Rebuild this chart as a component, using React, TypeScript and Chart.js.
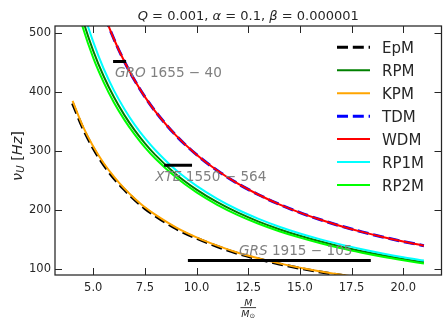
import React, { useEffect, useRef } from "react";
import { Chart, registerables } from "chart.js";

Chart.register(...registerables);

// ---------- data ----------
const massGrid = [4, 4.5, 5, 5.5, 6, 6.5, 7, 7.5, 8, 9, 10, 11, 12, 13, 14, 15, 16, 17, 18, 19, 20, 21];

const epmValues = [381, 339, 305, 277, 254, 235, 218, 203, 190.5, 169, 152.5, 138.6, 126.7, 117.3, 109, 101.7, 95.3, 89.7, 84.7, 80.2, 76.2, 72.6];
const rpmValues = [587.5, 522.2, 470, 427.3, 391.7, 361.5, 335.7, 313.3, 293.8, 261.1, 235, 213.6, 195.8, 180.8, 167.9, 156.7, 146.9, 138.2, 130.6, 123.7, 117.5, 111.9];
const kpmValues = [385, 342, 308, 280, 257, 237, 220, 205, 192.5, 171, 154, 140, 128, 118.5, 110, 102.7, 96.3, 90.6, 85.6, 81, 77, 73.3];
const tdmValues = [735, 653, 588, 534.5, 490, 452.3, 420, 392, 367.5, 326.7, 294, 267.3, 245, 226.2, 210, 196, 183.8, 173, 163.3, 154.7, 147, 140];
const wdmValues = [735, 653, 588, 534.5, 490, 452.3, 420, 392, 367.5, 326.7, 294, 267.3, 245, 226.2, 210, 196, 183.8, 173, 163.3, 154.7, 147, 140];
const rp1mValues = [607, 539, 485, 440, 403, 372, 345, 322, 302, 268, 241.2, 219.2, 200.8, 185.4, 172.1, 160.6, 150.6, 141.7, 133.9, 126.8, 120.4, 114.7];
const rp2mValues = [572, 509, 458, 417, 382.5, 353.5, 328.5, 306.5, 287.5, 255.7, 230.1, 209.2, 191.8, 177.1, 164.5, 153.6, 144, 135.4, 128, 121.2, 115.2, 109.7];

const seriesNames = ["EpM", "RPM", "KPM", "TDM", "WDM", "RP1M", "RP2M"];

const sourceNames = ["GRO", "XTE", "GRS"];
const sourceNumbers = ["1655 \u2212 40", "1550 \u2212 564", "1915 \u2212 105"];
const sourceMassMin = [5.96, 8.43, 9.58];
const sourceMassMax = [6.59, 9.78, 18.43];
const sourceFreq = [452, 276, 115];
const sourceLabelMass = [6.05, 8.0, 12.05];
const sourceLabelFreq = [426, 250, 124];

const xTickValues = [5, 7.5, 10, 12.5, 15, 17.5, 20];
const xTickLabels = ["5.0", "7.5", "10.0", "12.5", "15.0", "17.5", "20.0"];
const yTickValues = [100, 200, 300, 400, 500];
const yTickLabels = ["100", "200", "300", "400", "500"];

const xRange = [3.15, 21.85];
const yRange = [90.3, 512];

// ---------- styles ----------
const seriesStyles = [
  { color: "#000000", width: 3, dash: [11, 4.8] },
  { color: "#008000", width: 2, dash: [] as number[] },
  { color: "#FFA500", width: 2, dash: [] as number[] },
  { color: "#0000FF", width: 3, dash: [11, 4.8] },
  { color: "#FF0000", width: 2, dash: [] as number[] },
  { color: "#00FFFF", width: 2, dash: [] as number[] },
  { color: "#00FF00", width: 2, dash: [] as number[] },
];
const seriesValues = [epmValues, rpmValues, kpmValues, tdmValues, wdmValues, rp1mValues, rp2mValues];

const FONT = '"DejaVu Sans"';
const TEXT = "#262626";

type Run = { t: string; it?: boolean; s?: number; dy?: number };

function runFont(size: number, r: Run) {
  const sz = size * (r.s ?? 1);
  return `${r.it ? "italic " : ""}${sz}px ${FONT}`;
}

function drawRuns(ctx: CanvasRenderingContext2D, runs: Run[], x: number, y: number, size: number, align: "left" | "center", color: string) {
  let total = 0;
  const widths: number[] = [];
  for (const r of runs) {
    ctx.font = runFont(size, r);
    const w = ctx.measureText(r.t).width;
    widths.push(w);
    total += w;
  }
  let cx = align === "center" ? x - total / 2 : x;
  ctx.fillStyle = color;
  ctx.textBaseline = "alphabetic";
  ctx.textAlign = "left";
  runs.forEach((r, i) => {
    ctx.font = runFont(size, r);
    ctx.fillText(r.t, cx, y + (r.dy ?? 0) * size);
    cx += widths[i];
  });
  return total;
}

const decorPlugin = {
  id: "decor",
  afterDraw(chart: any) {
    const ctx: CanvasRenderingContext2D = chart.ctx;
    const { left, right, top, bottom } = chart.chartArea;
    const xs = chart.scales.x;
    const ys = chart.scales.y;
    ctx.save();

    // source annotations
    for (let i = 0; i < sourceNames.length; i++) {
      const px = xs.getPixelForValue(sourceLabelMass[i]);
      const py = ys.getPixelForValue(sourceLabelFreq[i]);
      drawRuns(ctx, [{ t: sourceNames[i], it: true }, { t: " " + sourceNumbers[i] }], px, py, 13.6, "left", "#808080");
    }

    // frame
    ctx.strokeStyle = TEXT;
    ctx.lineWidth = 1.25;
    ctx.strokeRect(left, top, right - left, bottom - top);

    // inward ticks on all sides
    ctx.lineWidth = 1;
    ctx.beginPath();
    for (const v of xTickValues) {
      const px = Math.round(xs.getPixelForValue(v)) + 0.5;
      ctx.moveTo(px, bottom); ctx.lineTo(px, bottom - 7);
      ctx.moveTo(px, top); ctx.lineTo(px, top + 7);
    }
    for (const v of yTickValues) {
      const py = Math.round(ys.getPixelForValue(v)) + 0.5;
      ctx.moveTo(left, py); ctx.lineTo(left + 7, py);
      ctx.moveTo(right, py); ctx.lineTo(right - 7, py);
    }
    ctx.stroke();

    // title
    const cx = (left + right) / 2;
    drawRuns(ctx, [
      { t: "Q", it: true }, { t: " = 0.001, " },
      { t: "\u03B1", it: true }, { t: " = 0.1, " },
      { t: "\u03B2", it: true }, { t: " = 0.000001" },
    ], cx, 19.5, 13, "center", TEXT);

    // y label (rotated)
    ctx.save();
    ctx.translate(21.5, 156);
    ctx.rotate(-Math.PI / 2);
    drawRuns(ctx, [
      { t: "\u03BD", it: true },
      { t: "U", it: true, s: 0.7, dy: 0.2 },
      { t: " [" }, { t: "Hz", it: true }, { t: "]" },
    ], 0, 0, 14.5, "center", TEXT);
    ctx.restore();

    // x label: M / M_sun
    ctx.font = `italic 9.5px ${FONT}`;
    ctx.fillStyle = TEXT;
    ctx.textAlign = "center";
    ctx.textBaseline = "alphabetic";
    ctx.fillText("M", cx, 306);
    ctx.fillRect(cx - 7.8, 307.2, 15.6, 0.9);
    drawRuns(ctx, [{ t: "M", it: true }, { t: "\u2299", s: 0.7, dy: 0.15 }], cx, 316.5, 9.5, "center", TEXT);

    // legend
    const lx0 = 337, lx1 = 370, tx = 382, ly0 = 47.3, dyRow = 22.95;
    const ds = chart.data.datasets;
    for (let i = 0; i < seriesNames.length; i++) {
      const y = ly0 + i * dyRow;
      ctx.beginPath();
      ctx.strokeStyle = ds[i].borderColor;
      ctx.lineWidth = ds[i].borderWidth;
      ctx.setLineDash(ds[i].borderDash || []);
      ctx.moveTo(lx0, y); ctx.lineTo(lx1, y);
      ctx.stroke();
      ctx.setLineDash([]);
      ctx.font = `15px ${FONT}`;
      ctx.fillStyle = TEXT;
      ctx.textAlign = "left";
      ctx.textBaseline = "alphabetic";
      ctx.fillText(ds[i].label, tx, y + 5.5);
    }

    ctx.restore();
  },
};

export default function App() {
  const ref = useRef<HTMLCanvasElement | null>(null);

  useEffect(() => {
    if (!ref.current) return;
    const n = seriesNames.length;
    const curveSets = seriesNames.map((name, i) => ({
      label: name,
      data: massGrid.map((m, j) => ({ x: m, y: seriesValues[i][j] })),
      borderColor: seriesStyles[i].color,
      backgroundColor: seriesStyles[i].color,
      borderWidth: seriesStyles[i].width,
      borderDash: seriesStyles[i].dash,
      cubicInterpolationMode: "monotone" as const,
      pointRadius: 0,
      fill: false,
      order: n - i + 1,
    }));
    const barSets = sourceNames.map((name, i) => ({
      label: name,
      data: [
        { x: sourceMassMin[i], y: sourceFreq[i] },
        { x: sourceMassMax[i], y: sourceFreq[i] },
      ],
      borderColor: "#000000",
      backgroundColor: "#000000",
      borderWidth: 3,
      pointRadius: 0,
      fill: false,
      order: 0,
    }));

    const chart = new Chart(ref.current, {
      type: "line",
      data: { datasets: [...curveSets, ...barSets] as any },
      options: {
        responsive: false,
        animation: false,
        events: [],
        layout: { padding: { top: 26, right: 5.5, left: 0, bottom: 0 } },
        plugins: {
          legend: { display: false },
          title: { display: false },
          tooltip: { enabled: false },
        },
        scales: {
          x: {
            type: "linear",
            min: xRange[0],
            max: xRange[1],
            grid: { display: false, drawTicks: false },
            border: { display: false },
            afterBuildTicks: (s: any) => { s.ticks = xTickValues.map((v) => ({ value: v })); },
            afterFit: (s: any) => { s.height = 54; },
            ticks: {
              autoSkip: false,
              maxRotation: 0,
              minRotation: 0,
              padding: 6,
              color: TEXT,
              font: { family: "DejaVu Sans", size: 11.5 },
              callback: (v: any) => xTickLabels[xTickValues.indexOf(Number(v))],
            },
          },
          y: {
            type: "linear",
            min: yRange[0],
            max: yRange[1],
            grid: { display: false, drawTicks: false },
            border: { display: false },
            afterBuildTicks: (s: any) => { s.ticks = yTickValues.map((v) => ({ value: v })); },
            afterFit: (s: any) => { s.width = 55; },
            ticks: {
              autoSkip: false,
              padding: 4,
              color: TEXT,
              font: { family: "DejaVu Sans", size: 11.5 },
              callback: (v: any) => yTickLabels[yTickValues.indexOf(Number(v))],
            },
          },
        },
      },
      plugins: [decorPlugin],
    });
    return () => chart.destroy();
  }, []);

  return (
    <div style={{ position: "fixed", left: 0, top: 0, width: 447, height: 329, background: "#fff" }}>
      <canvas ref={ref} width={447} height={329} style={{ display: "block", width: 447, height: 329 }} />
    </div>
  );
}
